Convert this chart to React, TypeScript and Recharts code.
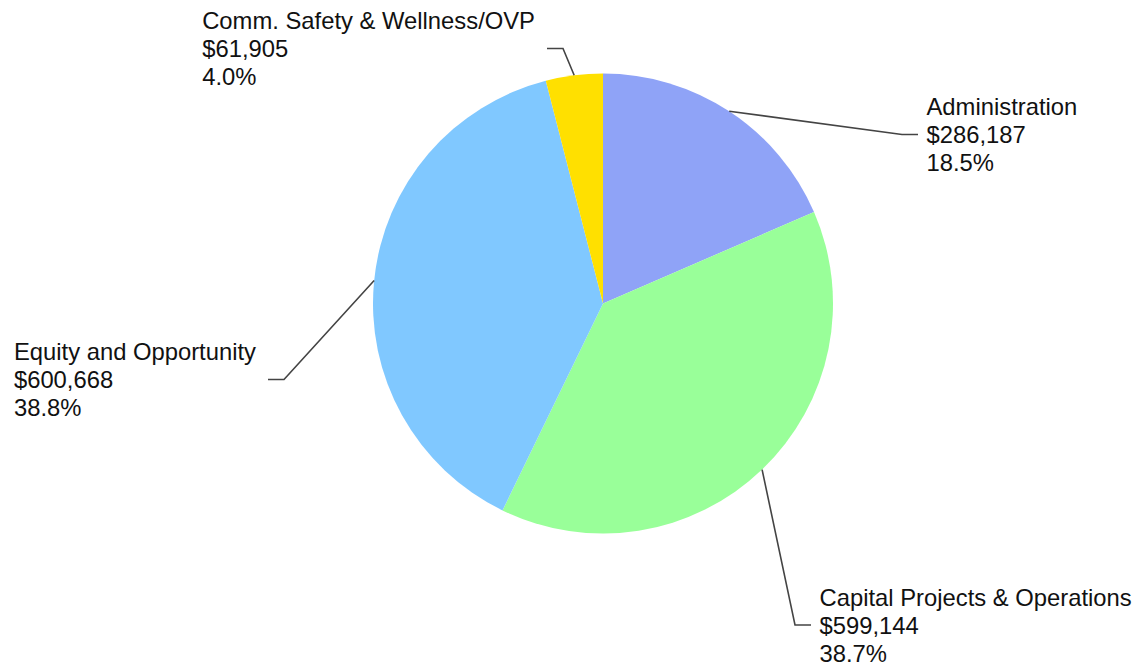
import React from 'react';
import { PieChart, Pie, Cell } from 'recharts';

const categories = [
  'Administration',
  'Capital Projects & Operations',
  'Equity and Opportunity',
  'Comm. Safety & Wellness/OVP',
];
const amounts = [286187, 599144, 600668, 61905];
const colors = ['#8FA3F7', '#99FF99', '#80C8FF', '#FFE000'];
// label elbow offsets from the pie centre (layout only)
const labelOffsets = [
  [315, -169],
  [208, 321.5],
  [-335, 76],
  [-56, -255],
];

const data = categories.map((name, i) => ({ name, value: amounts[i] }));

const FONT_SIZE = 23.8;
const FONT_FAMILY = "'Liberation Sans', Arial, Helvetica, sans-serif";
const LINE_H = 28;

let ctx: CanvasRenderingContext2D | null = null;
function measure(text: string): number {
  if (!ctx) {
    const c = document.createElement('canvas');
    ctx = c.getContext('2d');
  }
  if (!ctx) return text.length * FONT_SIZE * 0.55;
  ctx.font = `${FONT_SIZE}px 'Liberation Sans', Arial, sans-serif`;
  return ctx.measureText(text).width;
}

const renderLabel = (props: any) => {
  const { cx, cy, midAngle, outerRadius, index, percent, value } = props;
  const rad = Math.PI / 180;
  const sx = cx + outerRadius * Math.cos(-midAngle * rad);
  const sy = cy + outerRadius * Math.sin(-midAngle * rad);
  const [ox, oy] = labelOffsets[index];
  const ex = cx + ox;
  const ey = cy + oy;
  const dir = ox >= 0 ? 1 : -1;
  const bx = ex - dir * 16;
  const name = categories[index];
  const lines = [
    name,
    '$' + Number(value).toLocaleString('en-US'),
    (percent * 100).toFixed(1) + '%',
  ];
  const w = Math.max(...lines.map(measure));
  const tx = dir > 0 ? ex + 8.5 : ex - 12 - w;
  return (
    <g>
      <polyline
        points={`${sx},${sy} ${bx},${ey} ${ex},${ey}`}
        fill="none"
        stroke="#444444"
        strokeWidth={1.6}
      />
      {lines.map((l, k) => (
        <text
          key={k}
          x={tx}
          y={ey + (k - 1) * LINE_H}
          dominantBaseline="central"
          textAnchor="start"
          fontSize={FONT_SIZE}
          fontFamily={FONT_FAMILY}
          fill="#111111"
        >
          {l}
        </text>
      ))}
    </g>
  );
};

export default function App() {
  return (
    <div style={{ position: 'absolute', left: 0, top: 0, width: 1138, height: 663, background: '#ffffff' }}>
      <PieChart width={1138} height={663} margin={{ top: 0, right: 0, bottom: 0, left: 0 }}>
        <Pie
          data={data}
          dataKey="value"
          nameKey="name"
          cx={603}
          cy={303.5}
          outerRadius={230}
          startAngle={90}
          endAngle={-270}
          stroke="none"
          label={renderLabel}
          labelLine={false}
          isAnimationActive={false}
        >
          {data.map((d, i) => (
            <Cell key={d.name} fill={colors[i]} />
          ))}
        </Pie>
      </PieChart>
    </div>
  );
}
